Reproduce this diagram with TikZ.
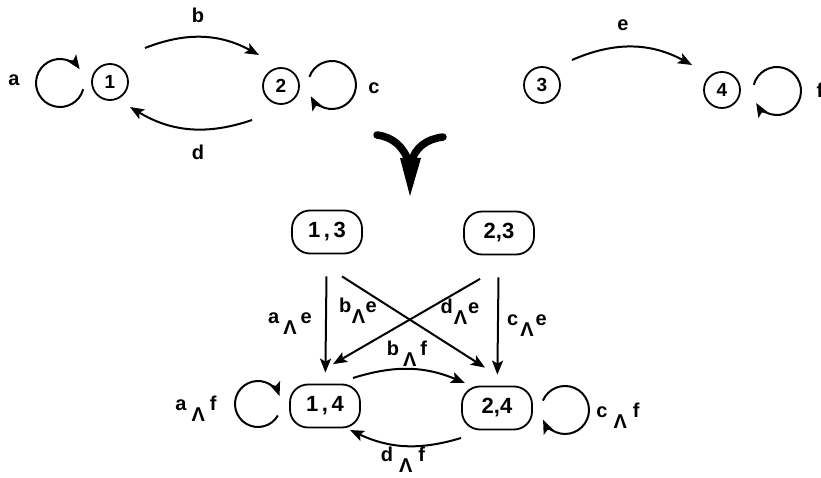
\documentclass[tikz,border=0pt]{standalone}
\usepackage{fontspec}
\setmainfont{Liberation Sans}
\usetikzlibrary{arrows.meta, calc}

% letter, lowered wedge, letter
\newcommand{\conj}[3][5pt]{#2\hspace{#1}\raisebox{-0.8\height}{Λ}\hspace{#1}#3}

\tikzset{
    state/.style={draw, circle, line width=1.8pt, minimum size=36pt, inner sep=0pt, font=\fontsize{19}{19}\selectfont\bfseries},
    pair/.style={draw, rectangle, rounded corners=18pt, line width=1.8pt, minimum width=70pt, minimum height=43pt, inner sep=0pt, font=\fontsize{22}{22}\selectfont\bfseries},
    lbl/.style={inner sep=0pt, font=\fontsize{20}{20}\selectfont\bfseries},
    arr/.style={line width=2pt, -{Stealth[length=14pt, width=11pt, inset=3pt]}},
}

\begin{document}
\begin{tikzpicture}[x=1pt, y=1pt]
    \useasboundingbox (0,0) rectangle (821,477);
    % Draw the two small automata
    \node[state] (n1) at (110,395) {1};
    \node[state] (n2) at (281,391) {2};
    \node[state] (n3) at (542,392) {3};
    \node[state] (n4) at (722,387) {4};
    % Transitions of the first automaton
    \draw[arr] ([shift={(35,34)}]n1.center) to[bend left=25] ([shift={(-22,31)}]n2.center);
    \draw[arr] ([shift={(-29,-34)}]n2.center) to[bend left=25] ([shift={(20,-25)}]n1.center);
    \draw[arr] ([shift={(-26.8,-7.2)}]n1.center) arc (-15:-325:24);
    \draw[arr] ([shift={(28.4,9.2)}]n2.center) arc (160:-152:24);
    \node[lbl] (la) at (14,397) {a};
    \node[lbl] (lb) at (198,462) {b};
    \node[lbl] (lc) at (374,389) {c};
    \node[lbl] (ld) at (198,325) {d};
    % Transitions of the second automaton
    \draw[arr] ([shift={(30,25)}]n3.center) to[bend left=26] ([shift={(-30,25)}]n4.center);
    \draw[arr] ([shift={(31.8,5.2)}]n4.center) arc (165:-150:24);
    \node[lbl] (le) at (623,452) {e};
    \node[lbl] (lf) at (820,387) {f};
    % Draw the big product arrow
    \draw[line width=7.5pt, line cap=round] (377,342) .. controls (393,340) and (404,330) .. (409,314);
    \draw[line width=7.5pt, line cap=round] (443,340) .. controls (427,338) and (415,330) .. (411,314);
    \fill (400,319) -- (421,319) -- (410,281) -- cycle;
    % Draw the product automaton
    \node[pair] (n13) at (327,245) {1\,,\,3};
    \node[pair] (n23) at (499,244) {2,3};
    \node[pair] (n14) at (325,71) {1\,,\,4};
    \node[pair] (n24) at (497,69) {2,4};
    % Transitions leaving (1,3) and (2,3)
    \draw[arr, shorten <=22pt, shorten >=11pt] (n13) -- (n14);
    \draw[arr, shorten <=22pt, shorten >=11pt] (n23) -- (n24);
    \draw[arr] ([shift={(15,-22)}]n13.south) -- ([shift={(-12,18)}]n24.north);
    \draw[arr] ([shift={(-19,-23.5)}]n23.south) -- ([shift={(8,19.5)}]n14.north);
    \node[lbl, anchor=base] (lae) at (290,154) {\conj[4pt]{a}{e}};
    \node[lbl, anchor=base] (lbe) at (358,165) {\conj[0.5pt]{b}{e}};
    \node[lbl, anchor=base] (lde) at (460,164) {\conj[1pt]{d}{e}};
    \node[lbl, anchor=base] (lce) at (527,152) {\conj[2pt]{c}{e}};
    % Transitions between (1,4) and (2,4)
    \draw[arr] ([shift={(28,28)}]n14.center) to[bend left=20] ([shift={(-32,25)}]n24.center);
    \draw[arr] ([shift={(-36,-30)}]n24.center) to[bend left=21] ([shift={(25,-24)}]n14.center);
    \draw[arr] ([shift={(-47.1,-9.5)}]n14.center) arc (-30:-340:23);
    \draw[arr] ([shift={(45.9,7.4)}]n24.center) arc (157:-156:24);
    \node[lbl, anchor=base] (lbf) at (407,122) {\conj[4pt]{b}{f}};
    \node[lbl, anchor=base] (ldf) at (403,16) {\conj[6pt]{d}{f}};
    \node[lbl, anchor=base] (laf) at (196,67) {\conj[5pt]{a}{f}};
    \node[lbl, anchor=base] (lcf) at (618,60) {\conj[6pt]{c}{f}};
\end{tikzpicture}
\end{document}
